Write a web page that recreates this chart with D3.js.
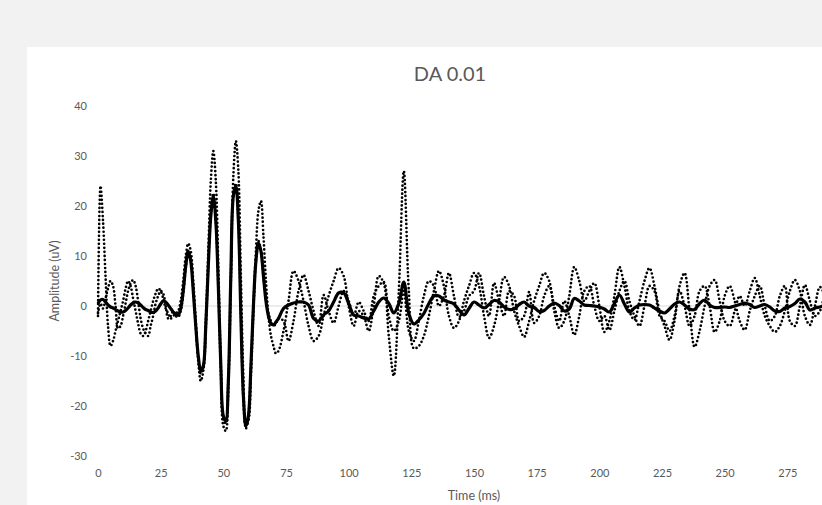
<!DOCTYPE html>
<html>
<head>
    <meta charset="utf-8">
    <title>DA 0.01</title>
<style>
    body { margin: 0; background: #f2f2f2; }
    text { font-family: 'Lato', 'Open Sans', sans-serif; fill: #595959; }
</style>
</head>
<body>
    <div id="chart"></div>

    <script src="https://d3js.org/d3.v7.min.js"></script>
    <script>
// sampling grid: 1 ms up to 72 ms, then every 2 ms
var time = d3.range(0, 73).concat(d3.range(74, 301, 2));

var yTicks = [-30, -20, -10, 0, 10, 20, 30, 40];
var xTicks = [0, 25, 50, 75, 100, 125, 150, 175, 200, 225, 250, 275];

// dotted trace 1 (large amplitude, spikes at 1 ms and 122 ms)
var traceA = [
    -2, 24, 17, 6, -4, -8, -7, -5, -3, -1,
    1, 3.5, 5, 4, 1.5, -1, -3.5, -5.5, -6, -5,
    -3, -1, 1, 2.5, 3.5, 3, 1.5, -0.5, -1.5, -2.5,
    -2,
    -1.5, -1, 1, 5, 10, 12.5, 11, 5, -3, -11,
    -15, -13, -3, 11, 25, 31, 25, 8, -12, -24,
    -25, -16, 5, 26, 33, 27, 6, -14, -24, -23,
    -14, -1, 11, 19, 21, 14, 5, -2, -6, -8,
    -9.5, -9,
    -5, 1, 7, 5, 1, -4, -7, -6, -2, 2,
    5, 7.6, 6, 0, -4, -1, -2, -5, 0, 6,
    4.5, -6, -14, 3, 27, 3, -8.5, -8, -6, -2,
    3, 7, 4, -2, -4.4, -3, 1, 4, 6.6, 4,
    -2, -6.4, -4, 1, 5.8, 4, -1, -4, -6.2, -3,
    1, 4, 6.6, 5, -1, -4.4, -3, 2, 7.8, 5,
    1, 3, 4.6, 0, -5.2, -3, 2, 7.8, 4, -1,
    -2.8, 1, 5, 7.6, 4, -1, -4, -6.8, -3, 4,
    6.6, -1, -8.2, -5, 0, 4, 5.2, 1, -3, -4,
    -1, 2, 0, 3, 5.6, 2, -2, -4, -5.2, -4,
    -1, 3, 5.2, 3, -2, -3.8, 0, 3.8, 2, -1,
    -3, -1, 2, 1
];

// dotted trace 2
var traceB = [
    -1.5, 0.5, -0.5, 1.5, 3.5, 5, 4, 0, -4.5, -4,
    -2, 0.5, 3, 4.5, 5.2, 4, 1, -2.5, -4.5, -5.5,
    -6, -4, -2, 0.5, 2, 3, 2.5, 0, -2.5, -2,
    -1,
    -2, -2.2, -1, 2.5, 7.5, 11, 9.5, 3.5, -4, -10.5,
    -13.5, -12.5, -4.5, 8, 18.5, 22.5, 17, 4, -12.5, -22.5,
    -23.5, -15, 6, 22.5, 24.5, 17, -2, -18.5, -24.5, -22,
    -12, 0, 9, 13, 11, 6, 1.5, -1.5, -3, -4,
    -3.5, -2.5,
    -3, -7, -3, 3, 6.2, 3, -1, -4, 2.2, -1,
    -3.4, 0, 3, 1, -2, 0.8, -1, -3, 2, 4,
    4.8, -2, -5, -3, 3, -5, -7, -3, 2, 5,
    4, 0, 2, 6.6, 2, -2.2, -1, 2, 3, 6.6,
    2, -2, 4.6, 1, -2, 3, 2, -3, -2, 2.8,
    -3.4, -2, 2, 4, 0, -3, 1, -2, -5.8, -2,
    3, 4, 0, -3, -2, -4.8, -1, 3, 5, 1,
    -2, -4, 0, 4, 3, -2, -3, -5, -2, 3,
    0, -4, -2, 3, 4, 0, -5.2, -3, 2, 4,
    1, -3, -4.8, -1, 2, 4, 0, -3, -2, 2,
    4, -3, -4, 0, 4.2, 1, -2, -1, 2, 3,
    0, -3, -1, 1
];

// solid trace (average)
var average = [
    0.5, 1.2, 1.3, 0.8, 0.2, -0.2, -0.4, -0.7, -1.0, -1.2,
    -1.2, -0.9, -0.4, 0.2, 0.6, 0.8, 0.6, 0.2, -0.3, -0.7,
    -0.9, -1.2, -1.3, -1.0, -0.4, 0.4, 1.0, 0.8, 0.2, -0.5,
    -1.2,
    -1.6, -1.8, -0.5, 3, 8, 11, 9, 3, -4, -10,
    -13, -12, -4, 8, 18, 22, 17, 4, -12, -22,
    -23, -15, 6, 22, 24, 17, -2, -18, -24, -22,
    -12, 0, 9, 12.6, 11, 6, 1, -2, -3.5, -3.8,
    -3.2, -2.5,
    -0.5, 0.2, 0.6, 0.8, 0.8, 0.2, -2.5, -3.0, -1.8, -1.0,
    0.8, 2.6, 2.6, 0.5, -1.8, -2.0, -2.4, -2.6, -1.0, 0.8,
    1.6, 0.5, -1.4, 0.5, 4.8, -1.5, -3.6, -2.8, -1.5, 0.5,
    2.0, 2.0, 1.2, 0.8, 0.4, -0.8, -1.8, -0.5, 0.8, 0.2,
    -0.4, 0.3, 1.1, 0.8, -0.2, -0.7, -0.6, 0.3, 0.8, 0,
    -0.3, -1.1, -0.9, 0, 0.6, 0.1, -1.0, -0.6, 1.5, 1.0,
    0.2, 0.1, 0, -0.2, -0.6, -1.2, 0.5, 2.2, 0.4, -1.2,
    -0.4, 0.2, 0.3, 0.2, -0.4, -1.0, -1.4, -0.6, 0.4, 0.8,
    0.2, -0.6, -0.7, 0.5, 1.2, 0.2, -0.3, -0.3, -0.2, -0.3,
    0, 0.3, 0.6, 0.3, -0.3, 0, 0.3, -0.2, -1.0, -1.1,
    -0.4, -0.1, 0.5, 1.4, 0.8, -0.8, -0.4, -0.2, 0.1, 0.3,
    -0.2, 0, 0.2, 0
];

var width = 822;
var height = 505;

var svg = d3.select('#chart')
    .append('svg')
    .attr('width', width)
    .attr('height', height);

svg.append('rect')
    .attr('width', width)
    .attr('height', height)
    .attr('fill', '#f2f2f2');

// chart panel (runs off the right / bottom edge)
svg.append('rect')
    .attr('x', 27)
    .attr('y', 47)
    .attr('width', 900)
    .attr('height', 500)
    .attr('fill', '#fff');

var x = d3.scaleLinear().domain([0, 300]).range([98, 850]);
var y = d3.scaleLinear().domain([-30, 40]).range([456, 106]);

// zero line
svg.append('line')
    .attr('x1', x(0))
    .attr('x2', x(300))
    .attr('y1', y(0))
    .attr('y2', y(0))
    .style('stroke', '#d9d9d9')
    .style('stroke-width', '1px');

// plain hyphen for negatives, like the original
var plain = function(d) { return String(d); };

svg.append('g')
    .attr('transform', 'translate(' + x(0) + ',0)')
    .call(d3.axisLeft(y).tickValues(yTicks).tickFormat(plain).tickSize(0).tickPadding(11));

svg.append('g')
    .attr('transform', 'translate(0,' + y(-30) + ')')
    .call(d3.axisBottom(x).tickValues(xTicks).tickFormat(plain).tickSize(0).tickPadding(13));

svg.selectAll('.domain').remove();
svg.selectAll('.tick text')
    .style('font-family', "'Lato', sans-serif")
    .style('font-size', '11px')
    .style('fill', '#595959');

var line = function(values) {
    return d3.line()
        .x(function(d, i) { return x(time[i]); })
        .y(function(d) { return y(d); })
        .curve(d3.curveCatmullRom.alpha(0.5))(values);
};

[traceA, traceB].forEach(function(values) {
    svg.append('path')
        .attr('d', line(values))
        .attr('fill', 'none')
        .style('stroke', '#000')
        .style('stroke-width', '2.7px')
        .style('stroke-linecap', 'round')
        .style('stroke-dasharray', '0 4');
});

svg.append('path')
    .attr('d', line(average))
    .attr('fill', 'none')
    .style('stroke', '#000')
    .style('stroke-width', '3.2px')
    .style('stroke-linejoin', 'round');

svg.append('text')
    .attr('x', 450)
    .attr('y', 81)
    .attr('text-anchor', 'middle')
    .style('font-size', '20px')
    .text('DA 0.01');

svg.append('text')
    .attr('x', x(150))
    .attr('y', 500)
    .attr('text-anchor', 'middle')
    .style('font-size', '12.5px')
    .text('Time (ms)');

svg.append('text')
    .attr('transform', 'translate(59,' + y(5) + ') rotate(-90)')
    .attr('text-anchor', 'middle')
    .style('font-size', '12.5px')
    .text('Amplitude (uV)');
    </script>
</body>
</html>
